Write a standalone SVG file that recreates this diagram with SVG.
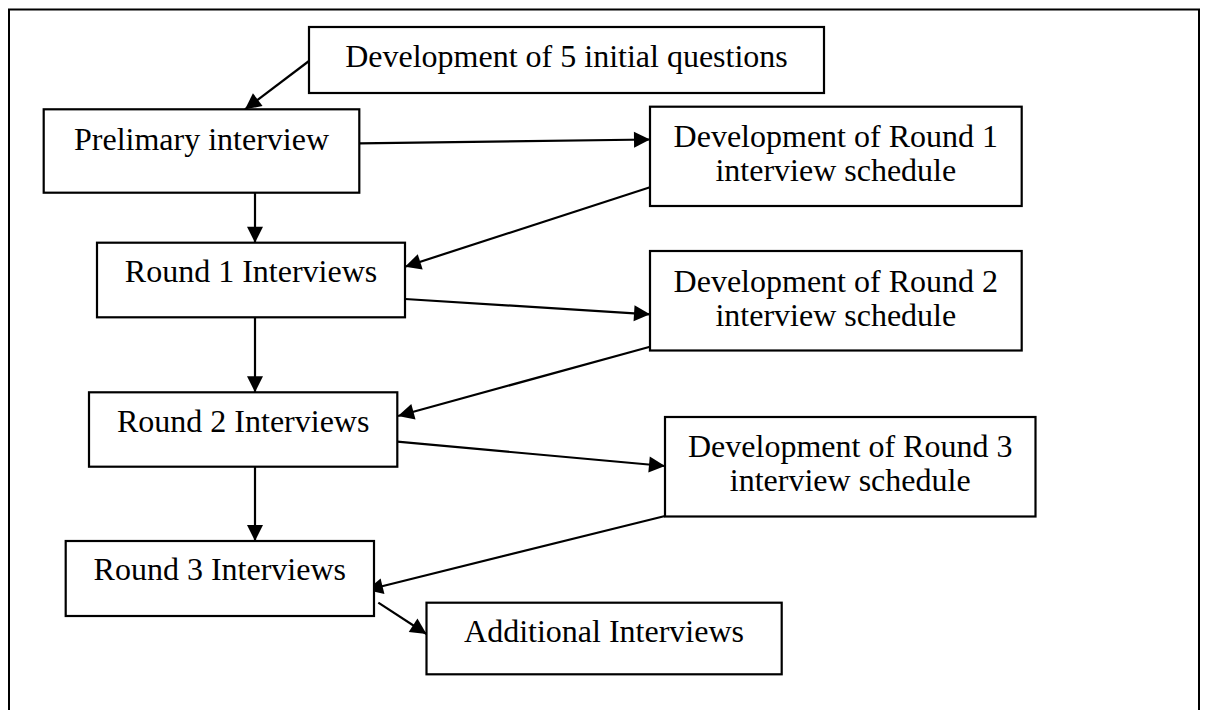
<svg xmlns="http://www.w3.org/2000/svg" width="1207" height="710" viewBox="0 0 1207 710">
  <style>
    .box { fill: #ffffff; stroke: #000000; stroke-width: 2.2; }
    .frame { fill: none; stroke: #000000; stroke-width: 2; }
    .lbl { font-family: "Liberation Serif", "Times New Roman", serif; font-size: 32px; fill: #000000; text-anchor: middle; }
    .edge { stroke: #000000; stroke-width: 2.2; fill: none; marker-end: url(#arrow); }
  </style>
  <defs>
    <marker id="arrow" markerUnits="userSpaceOnUse" viewBox="0 0 16 16" markerWidth="16" markerHeight="16" refX="16" refY="8" orient="auto" overflow="visible">
      <path d="M0,0 L16,8 L0,16 z" fill="#000000"/>
    </marker>
  </defs>

  <rect width="1207" height="710" fill="#ffffff"/>
  <!-- outer border -->
  <rect class="frame" x="9" y="9.5" width="1190" height="720"/>

  <!-- connectors -->
  <g id="connectors">
    <line class="edge" x1="309" y1="61" x2="245" y2="109.3"/>
    <line class="edge" x1="359.3" y1="143.3" x2="650" y2="139.5"/>
    <line class="edge" x1="255" y1="192.7" x2="255" y2="242.7"/>
    <line class="edge" x1="650" y1="187.3" x2="405" y2="266.7"/>
    <line class="edge" x1="405" y1="299" x2="650" y2="314.3"/>
    <line class="edge" x1="255" y1="317.3" x2="255" y2="392.3"/>
    <line class="edge" x1="650" y1="346.7" x2="398" y2="416"/>
    <line class="edge" x1="397.3" y1="441.7" x2="665" y2="466"/>
    <line class="edge" x1="255" y1="466.7" x2="255" y2="541"/>
    <line class="edge" x1="665" y1="516" x2="367" y2="590"/>
    <line class="edge" x1="378.3" y1="602.7" x2="426.5" y2="634"/>
  </g>

  <!-- nodes -->
  <g id="initial-questions">
    <rect class="box" x="309" y="27" width="515" height="66"/>
    <text class="lbl" x="566.5" y="67">Development of 5 initial questions</text>
  </g>
  <g id="preliminary-interview">
    <rect class="box" x="43.7" y="109.3" width="315.6" height="83.4"/>
    <text class="lbl" x="201.5" y="150">Prelimary interview</text>
  </g>
  <g id="dev-round-1">
    <rect class="box" x="650" y="106.7" width="371.7" height="99.3"/>
    <text class="lbl" x="835.8" y="146.7">Development of Round 1</text>
    <text class="lbl" x="835.8" y="181">interview schedule</text>
  </g>
  <g id="round-1">
    <rect class="box" x="97" y="242.7" width="308" height="74.6"/>
    <text class="lbl" x="251" y="281.7">Round 1 Interviews</text>
  </g>
  <g id="dev-round-2">
    <rect class="box" x="650" y="251" width="371.7" height="99.5"/>
    <text class="lbl" x="835.8" y="291.5">Development of Round 2</text>
    <text class="lbl" x="835.8" y="326">interview schedule</text>
  </g>
  <g id="round-2">
    <rect class="box" x="89" y="392.3" width="308.3" height="74.4"/>
    <text class="lbl" x="243.2" y="431.7">Round 2 Interviews</text>
  </g>
  <g id="dev-round-3">
    <rect class="box" x="665" y="417" width="370.5" height="99.5"/>
    <text class="lbl" x="850.2" y="456.7">Development of Round 3</text>
    <text class="lbl" x="850.2" y="491">interview schedule</text>
  </g>
  <g id="round-3">
    <rect class="box" x="65.7" y="541" width="308.3" height="75"/>
    <text class="lbl" x="219.8" y="580">Round 3 Interviews</text>
  </g>
  <g id="additional">
    <rect class="box" x="426.5" y="602.7" width="355.2" height="71.6"/>
    <text class="lbl" x="604" y="641.7">Additional Interviews</text>
  </g>
</svg>
